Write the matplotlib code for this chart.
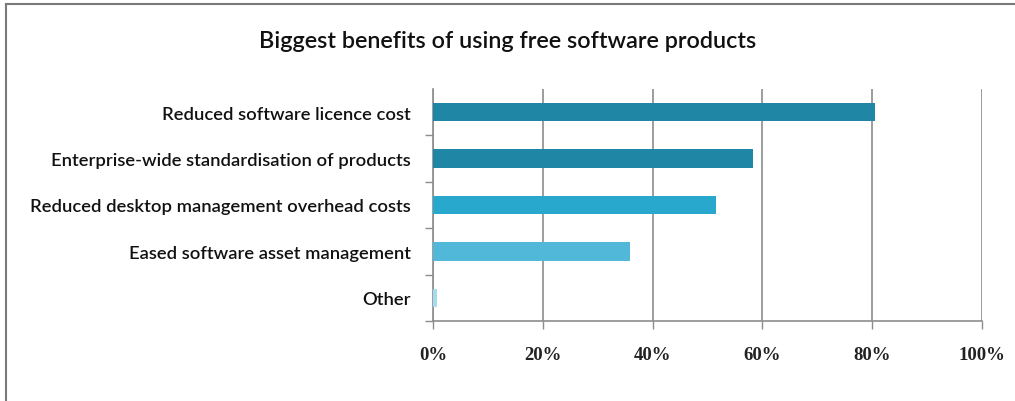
import matplotlib
matplotlib.use("Agg")
import matplotlib.pyplot as plt
from matplotlib.lines import Line2D
from matplotlib.ticker import PercentFormatter

categories = [
    "Reduced software licence cost",
    "Enterprise-wide standardisation of products",
    "Reduced desktop management overhead costs",
    "Eased software asset management",
    "Other",
]
shares = [80.5, 58.2, 51.5, 35.8, 0.8]
bar_colors = ["#1F87A5", "#1F87A5", "#29A8CE", "#52B8D9", "#A3DCEC"]
x_ticks = [0, 20, 40, 60, 80, 100]

fig = plt.figure(figsize=(10.15, 4.02), dpi=100)
ax = fig.add_axes([433 / 1015, 1 - 322 / 402, 549 / 1015, 232 / 402])

pos = list(range(len(categories)))
ax.barh(pos, shares, height=0.4, color=bar_colors, zorder=3)
ax.set_ylim(len(categories) - 0.5, -0.5)
ax.set_xlim(0, 100)

grid_c = "#8C8C8C"
ax.set_xticks(x_ticks)
ax.xaxis.set_major_formatter(PercentFormatter(decimals=0))
ax.grid(axis="x", color=grid_c, linewidth=1.2, zorder=0)
ax.tick_params(axis="x", length=6, width=1, color=grid_c, pad=12,
               labelsize=13.5, labelcolor="#222222")
for lab in ax.get_xticklabels():
    lab.set_family("Liberation Serif")
    lab.set_weight("bold")

ax.set_yticks(pos)
ax.set_yticklabels(categories, family="Lato", fontsize=13.2,
                   weight="semibold", color="#111111")
ax.tick_params(axis="y", length=0, pad=16)
ax.set_yticks([i + 0.5 for i in pos[:-1]] + [len(categories) - 0.5], minor=True)
ax.tick_params(axis="y", which="minor", length=6, width=1, color=grid_c)

for side in ("top", "right"):
    ax.spines[side].set_visible(False)
for side in ("left", "bottom"):
    ax.spines[side].set_color(grid_c)
    ax.spines[side].set_linewidth(1.2)

fig.text(0.5, 1 - 42 / 402, "Biggest benefits of using free software products",
         ha="center", va="center", family="Lato", fontsize=16.8,
         weight="semibold", color="#111111")

# outer frame along the left and top edges
fig.add_artist(Line2D([6 / 1015, 6 / 1015], [0, 1 - 5 / 402],
                      transform=fig.transFigure, color="#7A7A7A", linewidth=1.5))
fig.add_artist(Line2D([6 / 1015, 1], [1 - 5 / 402, 1 - 5 / 402],
                      transform=fig.transFigure, color="#7A7A7A", linewidth=1.5))

fig.savefig("out.png", dpi=100)
